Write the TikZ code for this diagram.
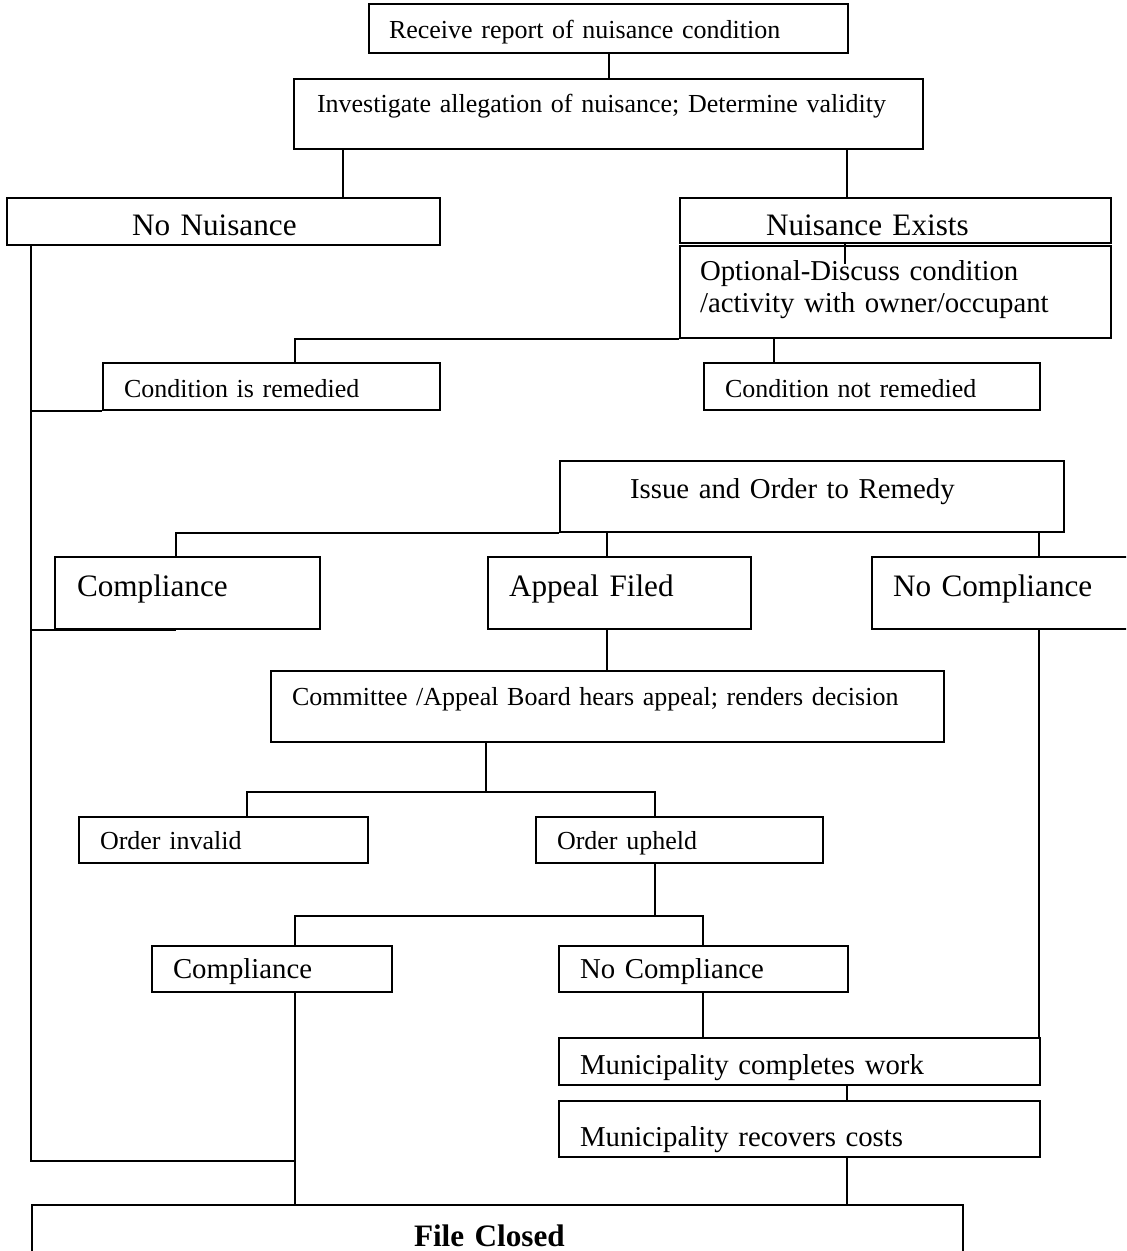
\documentclass[tikz,border=0pt]{standalone}
\usepackage{fontspec}
\setmainfont{Liberation Serif}

\tikzset{
  box/.style={draw, line width=1pt, rectangle, anchor=north west, inner ysep=0pt, align=left},
  link/.style={line width=1pt},
  sfont/.style={font=\fontsize{13}{15}\selectfont},
  mfont/.style={font=\fontsize{14.4}{16}\selectfont},
  lfont/.style={font=\fontsize{15.6}{18}\selectfont},
}

\begin{document}
\begin{tikzpicture}[x=0.5pt, y=-0.5pt]
    % 画像と同じ大きさの枠 (座標は画素単位, 下向きが正)
    \useasboundingbox (0,0) rectangle (1126,1251);
    \clip (0,0) rectangle (1126,1251);

    % 上段の箱
    \node[box, sfont, inner xsep=10pt, text width=219.5pt, text height=17.5pt, text depth=7pt] (recv) at (368,3) {Receive report of nuisance condition};
    \node[box, sfont, inner xsep=11.5pt, text width=291.5pt, text height=17pt, text depth=18pt] (inv) at (293,78) {Investigate allegation of nuisance; Determine validity};
    \node[box, lfont, inner xsep=62.5pt, text width=91.5pt, text height=19pt, text depth=4.5pt] (nonu) at (6,197) {No Nuisance};
    \node[box, lfont, inner xsep=43pt, text width=129.5pt, text height=19pt, text depth=3.5pt] (nuex) at (679,197) {Nuisance Exists};
    \node[box, mfont, inner xsep=10pt, text width=195.5pt, text height=17.5pt, text depth=28.5pt] (opt) at (679,245) {Optional-Discuss condition\\/activity with owner/occupant};
    \node[box, sfont, inner xsep=10.5pt, text width=147.5pt, text height=17pt, text depth=6.5pt] (crem) at (102,362) {Condition is remedied};
    \node[box, sfont, inner xsep=10.5pt, text width=147pt, text height=17pt, text depth=6.5pt] (cnrem) at (703,362) {Condition not remedied};

    % 命令と三つの分岐
    \node[box, mfont, inner xsep=35pt, text width=182pt, text height=18.5pt, text depth=17pt] (issue) at (559,460) {Issue and Order to Remedy};
    \node[box, lfont, inner xsep=11pt, text width=110.5pt, text height=19.5pt, text depth=16.5pt] (comp1) at (54,556) {Compliance};
    \node[box, lfont, inner xsep=10.5pt, text width=110.5pt, text height=19.5pt, text depth=16.5pt] (appeal) at (487,556) {Appeal Filed};
    \node[box, lfont, inner xsep=10.5pt, text width=113.5pt, text height=19.5pt, text depth=16.5pt] (nocomp1) at (871,556) {No Compliance};

    % 不服申立て
    \node[box, sfont, inner xsep=10.5pt, text width=315.5pt, text height=17pt, text depth=18.5pt] (cmte) at (270,670) {Committee /Appeal Board hears appeal; renders decision};
    \node[box, sfont, inner xsep=10.5pt, text width=123.5pt, text height=16pt, text depth=7pt] (inval) at (78,816) {Order invalid};
    \node[box, sfont, inner xsep=10.5pt, text width=122.5pt, text height=16pt, text depth=7pt] (uphd) at (535,816) {Order upheld};
    \node[box, mfont, inner xsep=10.5pt, text width=99pt, text height=16pt, text depth=7pt] (comp2) at (151,945) {Compliance};
    \node[box, mfont, inner xsep=10.5pt, text width=123.5pt, text height=16pt, text depth=7pt] (nocomp2) at (558,945) {No Compliance};

    % 市町村による処理と終了
    \node[box, mfont, inner xsep=10.5pt, text width=219.5pt, text height=18pt, text depth=5.5pt] (mcw) at (558,1037) {Municipality completes work};
    \node[box, mfont, inner xsep=10.5pt, text width=219.5pt, text height=22.5pt, text depth=5.5pt] (mrc) at (558,1100) {Municipality recovers costs};
    \node[box, lfont, inner xsep=191pt, text width=83.5pt, text height=20.5pt, text depth=22.5pt] (fclose) at (31,1204) {\bfseries File Closed};

    % 分岐点
    \coordinate (s1) at (486,792);
    \coordinate (s2) at (655,916);
    \coordinate (mrg) at (295,1161);

    % 線を描画
    \draw[link] (recv.south) -- (inv.north);
    \draw[link] (inv.south -| 343,0) -- (nonu.north -| 343,0);
    \draw[link] (inv.south -| 847,0) -- (nuex.north -| 847,0);
    \draw[link] (nuex.south -| 845,0) -- ++(0,20);
    \draw[link] (opt.south west) -| (crem.north -| 295,0);
    \draw[link] (opt.south -| 774,0) -- (cnrem.north -| 774,0);
    \draw[link] (nonu.south -| 31,0) |- (mrg);
    \draw[link] (crem.south west) -- (crem.south west -| 31,0);
    \draw[link] (comp1.south west -| 31,0) -- (comp1.south -| 176,0);
    \draw[link] (issue.south west) -| (comp1.north -| 176,0);
    \draw[link] (issue.south -| 607,0) -- (appeal.north -| 607,0);
    \draw[link] (issue.south -| 1039,0) -- (nocomp1.north -| 1039,0);
    \draw[link] (appeal.south -| 607,0) -- (cmte.north -| 607,0);
    \draw[link] (nocomp1.south -| 1039,0) -- (mcw.north -| 1039,0);
    \draw[link] (cmte.south -| s1) -- (s1);
    \draw[link] (inval.north -| 247,0) |- (s1) -| (uphd.north -| 655,0);
    \draw[link] (uphd.south -| s2) -- (s2);
    \draw[link] (comp2.north -| 295,0) |- (s2) -| (nocomp2.north -| 703,0);
    \draw[link] (nocomp2.south -| 703,0) -- (mcw.north -| 703,0);
    \draw[link] (mcw.south -| 847,0) -- (mrc.north -| 847,0);
    \draw[link] (mrc.south -| 847,0) -- (fclose.north -| 847,0);
    \draw[link] (comp2.south -| mrg) -- (fclose.north -| mrg);
\end{tikzpicture}
\end{document}
